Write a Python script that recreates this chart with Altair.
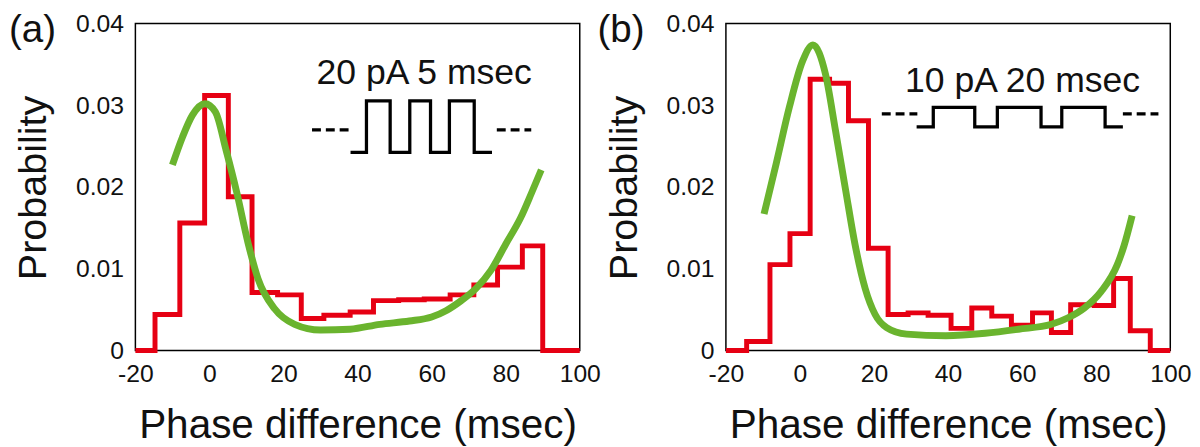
import altair as alt
import pandas as pd

FONT = "Liberation Sans"
RED = "#e60013"
GREEN = "#6ab42e"

# ---------------- Panel (a): 20 pA 5 msec ----------------
hist_a_edges = [-20, -14.7, -8.0, -1.3, 5.1, 11.5, 18.4, 24.8, 30.9, 38.0,
                44.3, 51.1, 58.0, 65.0, 71.4, 77.8, 84.5, 90.0]
hist_a_vals = [0, 0.0044, 0.0156, 0.0312, 0.0188, 0.0071, 0.0068, 0.0039, 0.0043, 0.0047,
               0.0061, 0.0062, 0.0063, 0.0068, 0.0080, 0.0102, 0.0128, 0]
fit_a_x = [-10, -7.3, -4.6, -1.2, 1.6, 4.5, 7.4, 10.4, 13.1, 17.6, 23, 30, 38, 46,
           54, 60, 64, 68, 72, 76, 80, 84, 87, 89.6]
fit_a_y = [0.0227, 0.0261, 0.0288, 0.0302, 0.0292, 0.0245, 0.0193, 0.0132, 0.0088, 0.0051,
           0.0032, 0.0025, 0.0026, 0.0032, 0.0036, 0.0041, 0.0049, 0.0061, 0.0076, 0.0098,
           0.0130, 0.0162, 0.0193, 0.0221]
pulse_a_x = [38.1, 42.4, 48.8, 54.1, 59.7, 64.8, 71.5, 76.3]
pulse_a_y = [0.02424, 0.03055, 0.02424, 0.03055, 0.02424, 0.03055, 0.02424, 0.02424]
dash_a_x = [27.7, 37.6, 77.6, 86.9]
dash_a_y = [0.0270, 0.0270, 0.0270, 0.0270]
dash_a_side = ["left", "left", "right", "right"]
label_a = "20 pA 5 msec"
label_a_pos = (58.0, 0.0326)

# ---------------- Panel (b): 10 pA 20 msec ----------------
hist_b_edges = [-20, -14.4, -8.1, -2.7, 2.75, 8.0, 13.1, 18.5, 23.8, 29.2, 34.6,
                40.8, 46.4, 51.8, 57.1, 62.8, 67.9, 73.1, 79.5, 84.7, 89.2, 94.6]
hist_b_vals = [0, 0.0011, 0.0105, 0.0143, 0.0332, 0.0327, 0.0281, 0.0125, 0.0044, 0.0046,
               0.0043, 0.0027, 0.0052, 0.0042, 0.0031, 0.0046, 0.0022, 0.0056, 0.0055,
               0.0088, 0.0024, 0]
fit_b_x = [-9.7, -6.4, -2.85, 0.7, 3.5, 6.9, 9.6, 12.3, 14.9, 17.6, 20.3, 23.4, 28.8,
           39.4, 50, 59, 67.9, 72.4, 76.8, 81.3, 85.7, 87.5, 89.7]
fit_b_y = [0.0167, 0.0229, 0.0298, 0.0354, 0.0374, 0.0338, 0.0269, 0.0197, 0.0129, 0.0076,
           0.0044, 0.0028, 0.0020, 0.0018, 0.0021, 0.0026, 0.0032, 0.0040, 0.0052, 0.0072,
           0.0105, 0.0128, 0.0165]
pulse_b_x = [31.5, 36.0, 47.2, 53.3, 65.1, 70.7, 82.4, 87.2]
pulse_b_y = [0.02735, 0.02976, 0.02735, 0.02976, 0.02735, 0.02976, 0.02735, 0.02735]
dash_b_x = [22.1, 31.7, 87.2, 96.8]
dash_b_y = [0.02895, 0.02895, 0.02895, 0.02895]
dash_b_side = ["left", "left", "right", "right"]
label_b = "10 pA 20 msec"
label_b_pos = (60.1, 0.0316)

X_TICKS = [-20, 0, 20, 40, 60, 80, 100]
Y_TICKS = [0, 0.01, 0.02, 0.03, 0.04]


def make_x():
    return alt.X(
        "x:Q",
        scale=alt.Scale(domain=[-20, 100], nice=False, zero=False),
        axis=alt.Axis(
            values=X_TICKS, title="Phase difference (msec)", grid=False, ticks=False,
            domain=False,
            labelExpr="datum.value < 0 ? '-' + (-datum.value) : '' + datum.value",
            labelFont=FONT, labelFontSize=25, labelColor="#111",
            labelPadding=11, labelFlush=False, labelOverlap=False,
            titleFont=FONT, titleFontSize=41, titleFontWeight="normal",
            titleColor="#111", titleY=76, titleBaseline="middle",
        ),
    )


def make_y():
    return alt.Y(
        "y:Q",
        scale=alt.Scale(domain=[0, 0.04], nice=False, zero=True),
        axis=alt.Axis(
            values=Y_TICKS,
            labelExpr="datum.value == 0 ? '0' : format(datum.value, '.2f')",
            title="Probability", grid=False, ticks=False, domain=False,
            labelFont=FONT, labelFontSize=25, labelColor="#111", labelPadding=12,
            labelFlush=False, labelOverlap=False,
            titleFont=FONT, titleFontSize=40, titleFontWeight="normal",
            titleColor="#111", titleX=-103, titleY=166, titleBaseline="middle",
        ),
    )


def panel(tag, edges, vals, fx, fy, px, py, dx, dy, dside, label, label_pos, tag_x):
    hist = pd.DataFrame({"x": edges + [100], "y": vals + [0]})
    fit = pd.DataFrame({"x": fx, "y": fy})
    pulse = pd.DataFrame({"x": px, "y": py})
    dash = pd.DataFrame({"x": dx, "y": dy, "side": dside})
    lab = pd.DataFrame({"x": [label_pos[0]], "y": [label_pos[1]], "t": [label]})
    tagdf = pd.DataFrame({"t": [tag]})

    h = alt.Chart(hist).mark_line(
        interpolate="step-after", color=RED, strokeWidth=5, strokeJoin="miter"
    ).encode(x=make_x(), y=make_y())
    f = alt.Chart(fit).mark_line(
        interpolate="monotone", color=GREEN, strokeWidth=7, strokeCap="butt"
    ).encode(x=make_x(), y=make_y())
    p = alt.Chart(pulse).mark_line(
        interpolate="step-after", color="black", strokeWidth=3.3, strokeJoin="miter"
    ).encode(x=make_x(), y=make_y())
    d = alt.Chart(dash).mark_line(
        color="black", strokeWidth=3.3, strokeDash=[9, 5]
    ).encode(x=make_x(), y=make_y(), detail="side:N")
    t = alt.Chart(lab).mark_text(
        font=FONT, fontSize=36, align="center", baseline="alphabetic", color="#111"
    ).encode(x=make_x(), y=make_y(), text="t:N")
    g = alt.Chart(tagdf).mark_text(
        font=FONT, fontSize=39, align="left", baseline="middle", color="#111"
    ).encode(x=alt.value(tag_x), y=alt.value(7), text="t:N")
    return alt.layer(h, f, p, d, t, g).properties(width=450, height=331)


pa = panel("(a)", hist_a_edges, hist_a_vals, fit_a_x, fit_a_y, pulse_a_x, pulse_a_y,
           dash_a_x, dash_a_y, dash_a_side, label_a, label_a_pos, -128)
pb = panel("(b)", hist_b_edges, hist_b_vals, fit_b_x, fit_b_y, pulse_b_x, pulse_b_y,
           dash_b_x, dash_b_y, dash_b_side, label_b, label_b_pos, -130)

chart = alt.hconcat(pa, pb, spacing=148, bounds="flush").properties(
    padding={"left": 0, "top": 0, "right": 0, "bottom": 0}, background="white"
).configure_view(stroke="black", strokeWidth=1.5)

chart.save("out.html", embed_options={"renderer": "svg", "actions": False})
